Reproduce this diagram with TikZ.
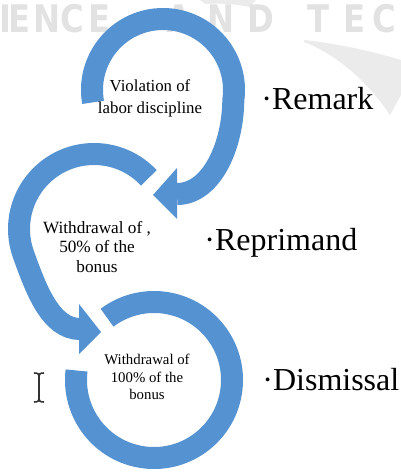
\documentclass[tikz,border=0pt]{standalone}
\usepackage{fontspec}
\setmainfont{Liberation Serif}
\newfontfamily\markfont{DejaVu Sans}
\usetikzlibrary{positioning}
\definecolor{ringblue}{RGB}{84,146,209}
\definecolor{markgray}{RGB}{226,226,226}
\tikzset{
  ring/.style={draw=ringblue,line width=11pt},
  tiphead/.style={fill=ringblue},
  cause/.style={align=center,inner sep=0pt,font=\fontsize{8.4}{11}\selectfont},
  stage/.style={anchor=base west,inner sep=0pt,font=\fontsize{16}{18}\selectfont},
  wmark/.style={anchor=base west,inner sep=0pt,text=markgray,xscale=0.85,font=\markfont\bfseries\fontsize{19}{19}\selectfont},
  cursor/.style={draw=black!80,line width=0.8pt}
}

\begin{document}
\begin{tikzpicture}[x=0.5pt,y=-0.5pt]
  \useasboundingbox (0,0) rectangle (401,476);
  % faint watermark behind
  \fill[markgray!70] (304,40) .. controls (340,44) and (375,52) .. (401,60) -- (401,95) -- (390,115) .. controls (370,85) and (340,56) .. (304,42) -- cycle;
  \fill[markgray!70] (200,0) -- (256,0) -- (250,7) .. controls (235,4) and (220,3) .. (205,4) -- cycle;
  \foreach \ch/\px [count=\i] in {I/-1,E/8,N/33,C/60,E/88,A/166,N/207,D/247,T/307,E/343,C/372}
    \node[wmark] (wm\i) at (\px,33) {\ch};

  % the three rings
  \draw[ring] (163,90) ++(170:71) arc[start angle=170,end angle=368,radius=71]
    .. controls (233,145) and (212,194) .. (177,194);
  \fill[tiphead] (177,168) -- (153,195) -- (177,219) -- cycle;
  \draw[ring] (94,229) ++(317:75) arc[start angle=317,end angle=160,radius=75]
    .. controls (35.5,287.6) and (50,329) .. (80,329);
  \fill[tiphead] (79,304) -- (101,332) -- (79,354) -- cycle;
  \draw[ring] (154,380) ++(187:78) arc[start angle=187,end angle=-127,radius=78];

  \node[cause] (violation) at (150,98) {Violation of\\labor discipline};
  \node[cause,font=\fontsize{8.6}{9.8}\selectfont] (half) at (97,247) {Withdrawal of ,\\50\% of the\\bonus};
  \node[cause,font=\fontsize{7.4}{8.8}\selectfont] (full) at (147,377) {Withdrawal of\\100\% of the\\bonus};

  \node[stage] (remark) at (261,110) {·Remark};
  \node[stage] (reprimand) at (204,250) {·Reprimand};
  \node[stage] (dismissal) at (262,390) {·Dismissal};

  % text cursor
  \draw[cursor] (34,373) .. controls (38,373) and (39,374) .. (39,376) .. controls (39,374) and (40,373) .. (44,373);
  \draw[cursor] (39,376) -- (39,399);
  \draw[cursor] (34,402) .. controls (38,402) and (39,401) .. (39,399) .. controls (39,401) and (40,402) .. (44,402);
\end{tikzpicture}
\end{document}
